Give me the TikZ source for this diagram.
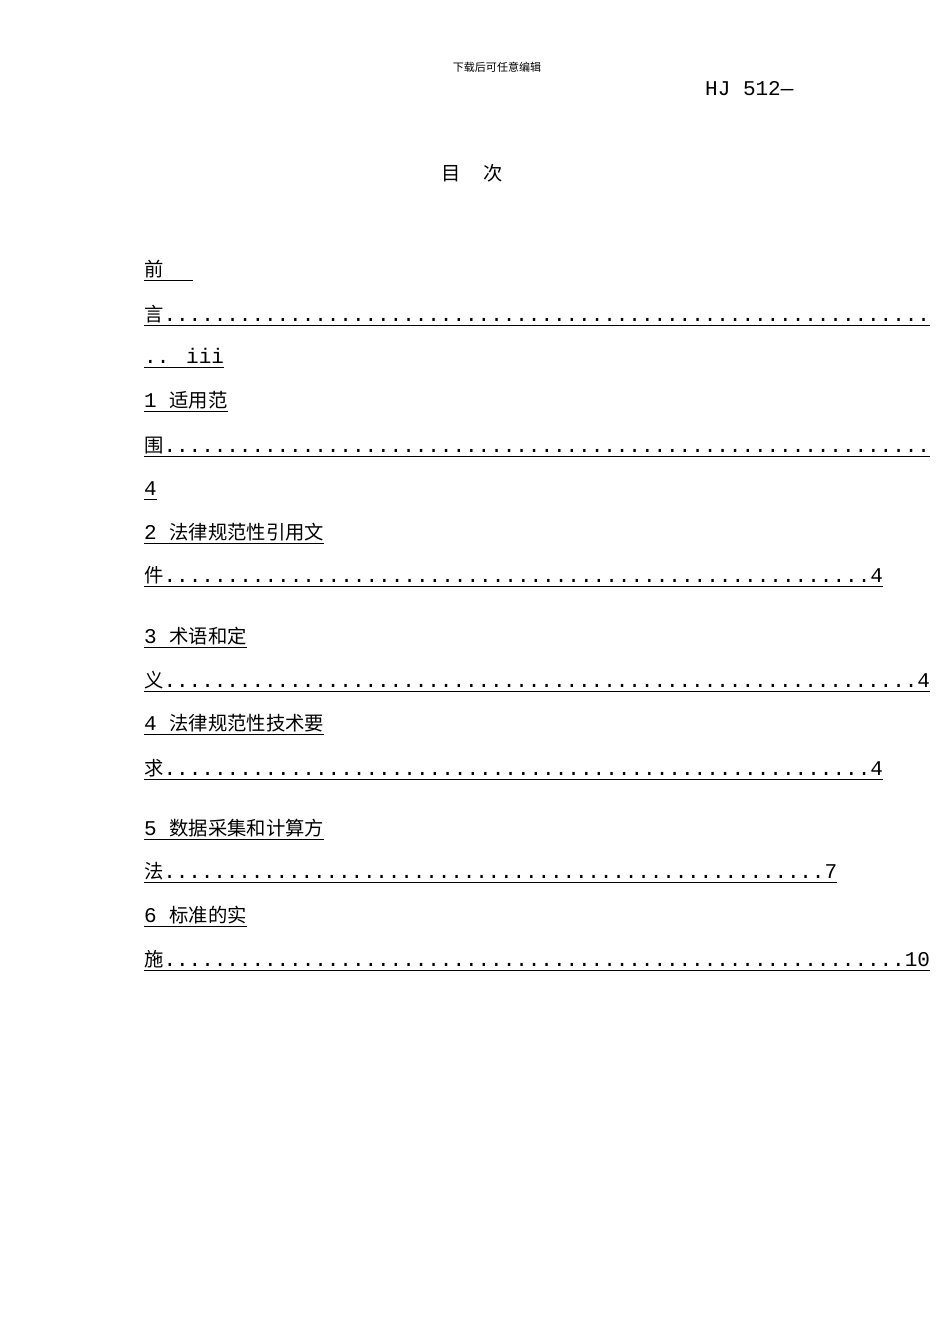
\documentclass[tikz,border=0pt]{standalone}
\usepackage{fontspec}
\setmainfont{Liberation Mono}
\newfontfamily\cjk{Noto Sans CJK SC}[Scale=0.92]
\newcommand{\dotrow}[3]{\hbox to #1{{\cjk #2}\xleaders\hbox to 12.45pt{\hss.\hss}\hfill #3}}
\begin{document}
\begin{tikzpicture}[x=1pt,y=-1pt,
  t/.style={anchor=base west,inner sep=0pt,font=\fontsize{21}{25}\selectfont},
  ul/.style={line width=0.9pt}]
\useasboundingbox (0,0) rectangle (950,1344);
\node[anchor=base,inner sep=0pt,font=\cjk\fontsize{12}{14}\selectfont] (hd) at (497,71) {下载后可任意编辑};
\node[t] (hj) at (705,95) {HJ 512—};
\node[t,anchor=base] (ml) at (472,180) {\cjk 目\hspace{1.2em}次};
% rows
\node[t] (r1) at (144,276) {\cjk 前\hspace{1.5em}\null};
\node[t] (r2) at (144,321) {\dotrow{786pt}{言}{}};
\node[t] (r3) at (144,363) {.. iii};
\node[t] (r4) at (144,407) {1  {\cjk 适用范}};
\node[t] (r5) at (144,452) {\dotrow{786pt}{围}{}};
\node[t] (r6) at (144,495) {4};
\node[t] (r7) at (144,539) {2  {\cjk 法律规范性引用文}};
\node[t] (r8) at (144,582) {\dotrow{739pt}{件}{4}};
\node[t] (r9) at (144,643) {3  {\cjk 术语和定}};
\node[t] (r10) at (144,687) {\dotrow{786pt}{义}{4}};
\node[t] (r11) at (144,730) {4  {\cjk 法律规范性技术要}};
\node[t] (r12) at (144,775) {\dotrow{739pt}{求}{4}};
\node[t] (r13) at (144,835) {5  {\cjk 数据采集和计算方}};
\node[t] (r14) at (144,878) {\dotrow{693pt}{法}{7}};
\node[t] (r15) at (144,922) {6  {\cjk 标准的实}};
\node[t] (r16) at (144,966) {\dotrow{786pt}{施}{10}};
\foreach \n in {r1,r2,r3,r4,r5,r6,r7,r8,r9,r10,r11,r12,r13,r14,r15,r16}
  \draw[ul] ([yshift=-4pt]\n.base west) -- ([yshift=-4pt]\n.base east);
\end{tikzpicture}
\end{document}
